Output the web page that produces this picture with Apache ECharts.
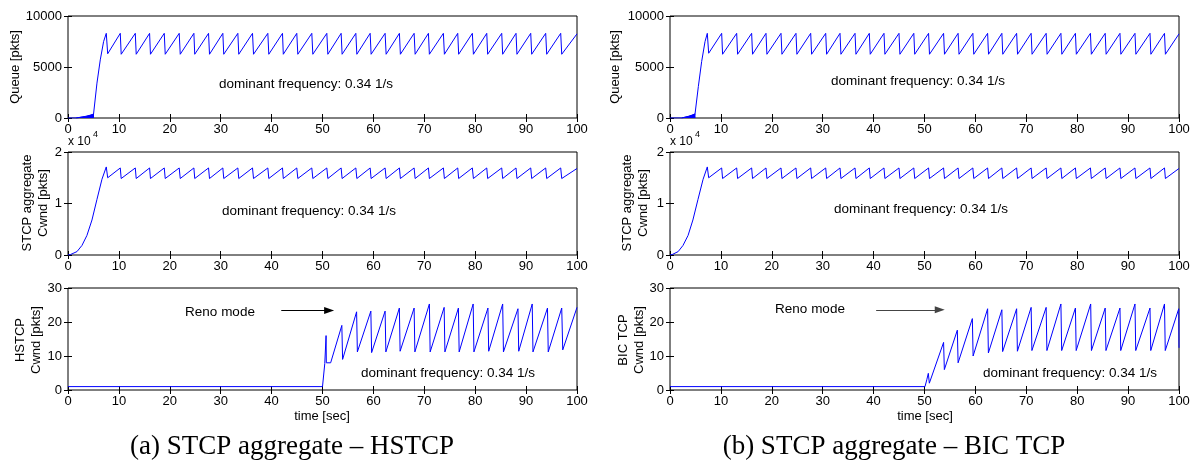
<!DOCTYPE html>
<html>
<head>
<meta charset="utf-8">
<script src="https://cdn.jsdelivr.net/npm/echarts@6/dist/echarts.min.js"></script>
<style>
  html, body { margin: 0; padding: 0; background: #fff; }
  #chart { width: 1200px; height: 462px; }
</style>
</head>
<body>
<div id="chart"></div>
<script>
// ---------- time axis ----------
const timeMin = 0, timeMax = 100, timeStep = 10;

// ---------- (a) STCP aggregate – HSTCP ----------
// sawtooth peak times and the moments right after each drop (s)
const peakA = [10.27, 13.22, 16.03, 18.91, 21.85, 24.73, 27.61, 30.42, 33.37, 36.25, 39.26, 42.14, 44.95, 47.90, 50.85, 53.66,
               56.55, 59.36, 62.30, 65.11, 68.00, 70.81, 73.75, 76.57, 79.44, 82.27, 85.21, 88.02, 90.91, 93.85, 96.80];
const dropA = [10.45, 13.40, 16.20, 19.10, 22.05, 24.90, 27.80, 30.60, 33.55, 36.45, 39.45, 42.30, 45.15, 48.10, 51.05, 53.85,
               56.75, 59.55, 62.50, 65.30, 68.20, 71.00, 73.95, 76.75, 79.65, 82.45, 85.40, 88.20, 91.10, 94.05, 97.00];
// queue [pkts]
const queueStartA = [[0, 0], [1.6, 0], [5.0, 300], [5.69, 3420], [6.34, 5700], [6.99, 7490], [7.52, 8300], [7.80, 6300]];
const queueBurstA = [[1.6, 0], [3.5, 140], [5.0, 380], [5.02, 0]];
const queuePeakA = 8300, queueDropA = 6250;
const queueEndA = [[100, 8250]];
// STCP aggregate cwnd [pkts]
const cwndStartA = [[0, 0], [0.45, 70], [1.76, 660], [2.74, 1850], [3.72, 3800], [4.71, 6800], [5.69, 10800], [6.67, 14700], [7.52, 17100], [7.80, 15000]];
const cwndPeakA = 16900, cwndDropA = 14850;
const cwndEndA = [[100, 16800]];
// HSTCP cwnd [pkts]
const hstcpStart = [[0, 1], [50.0, 1], [50.45, 7.8], [50.65, 7.8], [50.7, 16], [50.75, 8], [51.6, 8]];
const hstcpPeakT = [53.8, 56.7, 59.5, 62.3, 65.1, 68.0, 71.0, 73.9, 76.7, 79.6, 82.5, 85.4, 88.4, 91.2, 94.2, 97.0];
const hstcpPeakV = [19.0, 23.0, 23.2, 23.2, 24.1, 24.1, 25.3, 24.3, 24.1, 25.3, 24.1, 25.3, 23.9, 25.3, 24.1, 24.1];
const hstcpDropT = [53.95, 56.85, 59.65, 62.45, 65.25, 68.15, 71.15, 74.05, 76.85, 79.75, 82.65, 85.55, 88.55, 91.35, 94.35, 97.2];
const hstcpDropV = [9.0, 11.2, 11.0, 11.2, 11.4, 11.2, 11.2, 11.2, 11.2, 11.2, 11.4, 11.2, 11.4, 11.2, 11.2, 11.8];
const hstcpEnd = [[100, 24.3]];

// ---------- (b) STCP aggregate – BIC TCP ----------
const peakB = [10.15, 13.10, 16.04, 18.86, 21.81, 24.75, 27.64, 30.59, 33.40, 36.35, 39.16, 42.04, 44.99, 47.90, 50.80, 53.75,
               56.60, 59.50, 62.40, 65.20, 68.10, 70.95, 73.90, 76.80, 79.65, 82.60, 85.50, 88.40, 91.35, 94.30, 97.15];
const dropB = [10.33, 13.28, 16.22, 19.04, 21.99, 24.93, 27.82, 30.77, 33.58, 36.53, 39.34, 42.22, 45.17, 48.08, 50.98, 53.93,
               56.78, 59.68, 62.58, 65.38, 68.28, 71.13, 74.08, 76.98, 79.83, 82.78, 85.68, 88.58, 91.53, 94.48, 97.33];
const queueStartB = [[0, 0], [2.3, 0], [4.9, 330], [5.57, 3090], [6.22, 5540], [6.88, 7490], [7.33, 8300], [7.60, 6350]];
const queueBurstB = [[2.3, 0], [3.6, 140], [4.9, 400], [4.92, 0]];
const queuePeakB = 8300, queueDropB = 6250;
const queueEndB = [[100, 8250]];
const cwndStartB = [[0, 0], [0.4, 70], [1.6, 660], [2.55, 1850], [3.55, 3800], [4.5, 6800], [5.5, 10800], [6.5, 14700], [7.33, 17100], [7.60, 15000]];
const cwndPeakB = 16900, cwndDropB = 14850;
const cwndEndB = [[100, 16800]];
// BIC TCP cwnd [pkts]
const bicStart = [[0, 1], [50.1, 1], [50.45, 3.0], [50.75, 4.9], [50.95, 2.0], [51.2, 2.2]];
const bicPeakT = [53.75, 56.45, 59.4, 62.4, 65.2, 68.1, 70.95, 73.9, 76.8, 79.65, 82.65, 85.5, 88.4, 91.35, 94.3, 97.15];
const bicPeakV = [14.0, 17.6, 21.0, 23.9, 23.6, 23.9, 24.3, 24.3, 25.3, 24.1, 25.3, 24.1, 24.1, 25.3, 24.1, 25.3];
const bicDropT = [53.9, 56.6, 59.55, 62.55, 65.35, 68.25, 71.1, 74.05, 76.95, 79.8, 82.8, 85.65, 88.55, 91.5, 94.45, 97.3];
const bicDropV = [6.0, 8.0, 10.0, 10.9, 11.3, 11.4, 11.6, 11.6, 11.6, 11.6, 11.6, 11.6, 11.6, 11.6, 11.6, 11.6];
const bicEnd = [[99.95, 23.9], [100, 12.4]];

// Reno-mode arrows (time, cwnd); the end point is the centre of the head
const renoArrowA = [[41.9, 23.4], [51.3, 23.4]];
const renoArrowB = [[40.5, 23.6], [53.0, 23.6]];

// joins start segment, sawtooth vertices and the tail into one polyline
function sawtooth(start, peakT, peakV, dropT, dropV, end) {
  const pts = start.slice();
  peakT.forEach((t, i) => {
    pts.push([t, Array.isArray(peakV) ? peakV[i] : peakV]);
    pts.push([dropT[i], Array.isArray(dropV) ? dropV[i] : dropV]);
  });
  return pts.concat(end);
}

const SANS = '"Liberation Sans", Arial, Helvetica, sans-serif';
const SERIF = '"Liberation Serif", "Times New Roman", serif';
const BLUE = '#0000ff';

const colLeft = [68, 670];
const plotW = 509;
const rowTop = [16, 152, 288];
const rowH = [102, 103, 102];

const panels = [
  { col: 0, row: 0, ymax: 10000, yint: 5000, lines: [sawtooth(queueStartA, peakA, queuePeakA, dropA, queueDropA, queueEndA)], burst: queueBurstA },
  { col: 1, row: 0, ymax: 10000, yint: 5000, lines: [sawtooth(queueStartB, peakB, queuePeakB, dropB, queueDropB, queueEndB)], burst: queueBurstB },
  { col: 0, row: 1, ymax: 20000, yint: 10000, scale: 10000, lines: [sawtooth(cwndStartA, peakA, cwndPeakA, dropA, cwndDropA, cwndEndA)] },
  { col: 1, row: 1, ymax: 20000, yint: 10000, scale: 10000, lines: [sawtooth(cwndStartB, peakB, cwndPeakB, dropB, cwndDropB, cwndEndB)] },
  { col: 0, row: 2, ymax: 30, yint: 10, lines: [sawtooth(hstcpStart, hstcpPeakT, hstcpPeakV, hstcpDropT, hstcpDropV, hstcpEnd)], arrow: renoArrowA, arrowColor: '#000' },
  { col: 1, row: 2, ymax: 30, yint: 10, lines: [sawtooth(bicStart, bicPeakT, bicPeakV, bicDropT, bicDropV, bicEnd)], arrow: renoArrowB, arrowColor: '#444' }
];

const grid = [], xAxis = [], yAxis = [], series = [];
const tick = { show: true, inside: true, length: 4, lineStyle: { color: '#000', width: 1 } };

panels.forEach((p, i) => {
  grid.push({ left: colLeft[p.col], top: rowTop[p.row], width: plotW, height: rowH[p.row],
              show: true, borderColor: '#000', borderWidth: 1, backgroundColor: 'transparent' });
  ['bottom', 'top'].forEach((pos, k) => {
    xAxis.push({ gridIndex: i, type: 'value', position: pos, min: timeMin, max: timeMax, interval: timeStep,
                 axisLine: { show: false }, axisTick: tick, splitLine: { show: false },
                 axisLabel: { show: k === 0, color: '#000', fontFamily: SANS, fontSize: 13, margin: 5 } });
  });
  ['left', 'right'].forEach((pos, k) => {
    yAxis.push({ gridIndex: i, type: 'value', position: pos, min: 0, max: p.ymax, interval: p.yint,
                 axisLine: { show: false }, axisTick: tick, splitLine: { show: false },
                 axisLabel: { show: k === 0, color: '#000', fontFamily: SANS, fontSize: 13, margin: 6,
                              formatter: v => String(p.scale ? v / p.scale : v) } });
  });
  p.lines.forEach(data => {
    const s = { type: 'line', xAxisIndex: 2 * i, yAxisIndex: 2 * i, data, showSymbol: false, silent: true,
                lineStyle: { color: BLUE, width: 1 }, clip: true };
    if (p.arrow) {
      s.markLine = { silent: true, symbol: ['none', 'triangle'], symbolSize: [7, 10], animation: false,
                     lineStyle: { color: p.arrowColor, width: 1, type: 'solid' }, label: { show: false },
                     data: [[{ coord: p.arrow[0] }, { coord: p.arrow[1], itemStyle: { color: '#000' } }]] };
    }
    series.push(s);
  });
  if (p.burst) {
    series.push({ type: 'line', xAxisIndex: 2 * i, yAxisIndex: 2 * i, data: p.burst, showSymbol: false, silent: true,
                  lineStyle: { color: BLUE, width: 1 }, areaStyle: { color: BLUE, opacity: 1 } });
  }
});

// annotation text
function txt(x, y, text, opt = {}) {
  return { type: 'text', x, y, rotation: opt.rot || 0, silent: true,
           style: { text, fill: '#000', font: (opt.size || 13) + 'px ' + (opt.family || SANS),
                    align: opt.align || 'left', verticalAlign: 'middle', lineHeight: opt.lh || 16 } };
}
const R = Math.PI / 2;
const NOTE = 13.5;
const graphic = [
  txt(15, 67, 'Queue [pkts]', { rot: R, align: 'center' }),
  txt(35, 203, 'STCP aggregate\nCwnd [pkts]', { rot: R, align: 'center' }),
  txt(28, 340, 'HSTCP\nCwnd [pkts]', { rot: R, align: 'center' }),
  txt(615, 67, 'Queue [pkts]', { rot: R, align: 'center' }),
  txt(635, 203, 'STCP aggregate\nCwnd [pkts]', { rot: R, align: 'center' }),
  txt(631, 340, 'BIC TCP\nCwnd [pkts]', { rot: R, align: 'center' }),
  txt(68, 142, 'x 10', { size: 12 }),
  txt(93, 135, '4', { size: 9 }),
  txt(670, 142, 'x 10', { size: 12 }),
  txt(695, 135, '4', { size: 9 }),
  txt(219, 84, 'dominant frequency: 0.34 1/s', { size: NOTE }),
  txt(222, 211, 'dominant frequency: 0.34 1/s', { size: NOTE }),
  txt(361, 373, 'dominant frequency: 0.34 1/s', { size: NOTE }),
  txt(831, 81, 'dominant frequency: 0.34 1/s', { size: NOTE }),
  txt(834, 209, 'dominant frequency: 0.34 1/s', { size: NOTE }),
  txt(983, 373, 'dominant frequency: 0.34 1/s', { size: NOTE }),
  txt(220, 312, 'Reno mode', { size: NOTE, align: 'center' }),
  txt(810, 309, 'Reno mode', { size: NOTE, align: 'center' }),
  txt(322, 416, 'time [sec]', { align: 'center' }),
  txt(925, 416, 'time [sec]', { align: 'center' }),
  txt(292, 447, '(a) STCP aggregate – HSTCP', { size: 27, family: SERIF, align: 'center' }),
  txt(894, 447, '(b) STCP aggregate – BIC TCP', { size: 27, family: SERIF, align: 'center' })
];

const chart = echarts.init(document.getElementById('chart'), null, { renderer: 'canvas' });
chart.setOption({ animation: false, backgroundColor: '#fff', grid, xAxis, yAxis, series, graphic });
</script>
</body>
</html>
